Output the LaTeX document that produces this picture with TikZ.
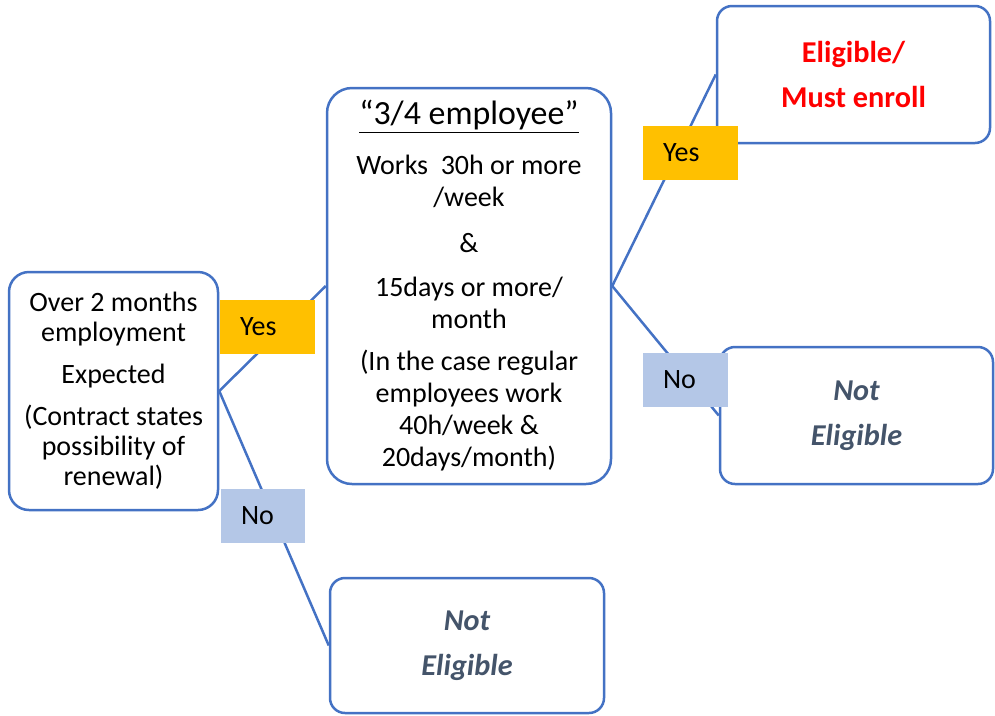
\documentclass[tikz,border=0pt]{standalone}
\usepackage{fontspec}
\setmainfont{Carlito}
\usepackage{xcolor}
\usetikzlibrary{shapes,calc,positioning}
\newlength\px
\setlength\px{0.75pt}
\definecolor{lineblue}{HTML}{4472C4}
\definecolor{yesgold}{HTML}{FFC000}
\definecolor{nopale}{HTML}{B4C7E7}
\definecolor{slate}{HTML}{44546A}

\begin{document}
\begin{tikzpicture}[x=0.75pt,y=-0.75pt]
  \tikzset{ box/.style={draw=lineblue,line width=2.5\px,rounded corners=20\px,fill=white,align=center,inner sep=0pt,font=\fontsize{21}{22.5}\selectfont},
    ans/.style={box,rounded corners=15\px,minimum width=273\px,minimum height=137\px,font=\fontsize{22.7}{33.75}\selectfont\bfseries},
    tag/.style={fill=yesgold,minimum height=54\px,inner xsep=20\px,text width=55\px,align=left,font=\fontsize{21}{22.5}\selectfont},
    link/.style={draw=lineblue,line width=2.5\px},
  }
  \useasboundingbox (0,0) rectangle (995,715);

  \node[box,minimum width=209\px,minimum height=238\px] (over) at (113.5,391)
    {Over 2 months\\employment\\[9pt]Expected\\[9pt](Contract states\\possibility of\\renewal)};
  \node[box,rounded corners=25\px,minimum width=284\px,minimum height=396\px,font=\fontsize{21}{24}\selectfont] (quarter) at (469,286)
    {{\fontsize{25.4}{24}\selectfont\underline{“3/4 employee”}}\\[13.5pt]Works\ \ 30h or more\\/week\\[10.5pt]\&\\[9pt]15days or more/\\month\\[7.5pt](In the case regular\\employees work\\40h/week \&\\20days/month)};
  \node[ans,text=red] (enroll) at (853.5,74.5) {Eligible/\\Must enroll};
  \node[ans,text=slate,font=\fontsize{22.7}{33.75}\selectfont\bfseries\itshape] (notB) at (856.5,415.5) {Not\\Eligible};
  \node[ans,text=slate,font=\fontsize{22.7}{33.75}\selectfont\bfseries\itshape,minimum width=274\px,minimum height=135\px] (notA) at (467,645.5) {Not\\Eligible};

  % the connection between the boxes
  \draw[link] (over.east) -- (quarter.west);
  \draw[link] (over.east) -- (notA.west);
  \draw[link] (quarter.east) -- (enroll.west);
  \draw[link] (quarter.east) -- (notB.west);

  % the yes / no tags on top of the lines
  \node[tag] (yesA) at (267.5,326.5) {Yes};
  \node[tag,fill=nopale,text width=44\px] (noA) at (263,516) {No};
  \node[tag] (yesB) at (690.5,152.5) {Yes};
  \node[tag,fill=nopale,text width=45\px] (noB) at (685.5,380) {No};
\end{tikzpicture}
\end{document}
